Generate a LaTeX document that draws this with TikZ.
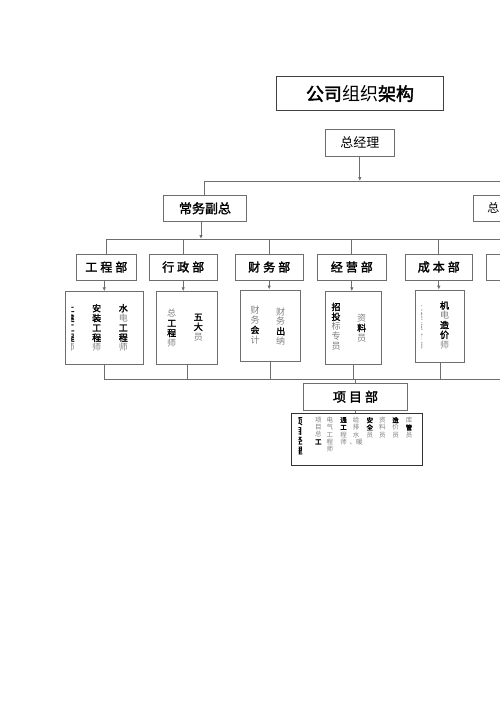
\documentclass[tikz,border=0pt]{standalone}
\usepackage{fontspec}
\setmainfont{Noto Sans CJK SC}[AutoFakeBold=2]
\usetikzlibrary{arrows.meta}
\definecolor{ln}{HTML}{6E6E6E}
\definecolor{tg}{HTML}{808080}
\newcommand\gk[1]{\textcolor{tg}{#1}}
\newcommand\bk[1]{{\bfseries #1}}
\begin{document}
\begin{tikzpicture}[x=1pt,y=-1pt,
  box/.style={draw=ln, line width=0.8pt, inner sep=0pt, fill=white},
  dept/.style={box, minimum height=26pt, font=\bfseries\fontsize{12}{12}\selectfont},
  conn/.style={draw=ln, line width=0.8pt},
  arr/.style={conn, -{Latex[length=4pt,width=3.5pt]}},
  col/.style={inner sep=0pt, align=center, font=\fontsize{9}{9.8}\selectfont},
  small/.style={inner sep=0pt, align=center, anchor=north, font=\fontsize{6.5}{7.3}\selectfont},
]
\fill[white] (0,0) rectangle (500,707);
\clip (0,0) rectangle (500,707);

% top boxes
\node[box, minimum width=166.6pt, minimum height=34pt, draw=black!75, font=\fontsize{18}{18}\selectfont] (title) at (360,93.7) {\bfseries 公司\mdseries 组织\bfseries 架构};
\node[box, minimum width=68.3pt, minimum height=26.7pt, font=\fontsize{13}{13}\selectfont] (gm) at (359.8,142.7) {总经理};
\node[box, minimum width=83.4pt, minimum height=26.7pt, font=\bfseries\fontsize{13}{13}\selectfont] (vp) at (205,208.3) {常务副总};
\node[box, minimum width=83.4pt, minimum height=26.7pt] (ce) at (515,208.3) {};
\node[inner sep=0pt, font=\fontsize{12}{12}\selectfont] (cet) at (493.3,208.3) {总};

% departments
\node[dept, minimum width=60.7pt] (d1) at (106.3,267) {工\hspace{3pt}程\hspace{3pt}部};
\node[dept, minimum width=68.3pt] (d2) at (183.2,267) {行\hspace{3pt}政\hspace{3pt}部};
\node[dept, minimum width=68.3pt] (d3) at (269.2,267) {财\hspace{3pt}务\hspace{3pt}部};
\node[dept, minimum width=68.3pt] (d4) at (351.8,267) {经\hspace{3pt}营\hspace{3pt}部};
\node[dept, minimum width=67.7pt] (d5) at (438.8,267) {成\hspace{3pt}本\hspace{3pt}部};
\node[dept, minimum width=68pt] (d6) at (520,267) {};

% sub boxes
\node[box, minimum width=78.3pt, minimum height=72.3pt] (s1) at (104.2,327.8) {};
\node[box, minimum width=60.6pt, minimum height=72.3pt] (s2) at (187,327.8) {};
\node[box, minimum width=60.7pt, minimum height=71.7pt] (s3) at (270.3,325.8) {};
\node[box, minimum width=56pt, minimum height=72.3pt] (s4) at (353,327.8) {};
\node[box, minimum width=48.6pt, minimum height=72.3pt] (s5) at (440,326.2) {};

% project department
\node[box, minimum width=104.4pt, minimum height=26.7pt, font=\bfseries\fontsize{13}{13}\selectfont] (pm) at (355.5,396.7) {项\hspace{3pt}目\hspace{3pt}部};
\node[box, minimum width=131.3pt, minimum height=51.7pt, draw=black!80] (ps) at (356.7,439.2) {};

% connectors
\coordinate (h1L) at (204.3,181); \coordinate (h1R) at (510,181);
\coordinate (h2L) at (105.7,239); \coordinate (h2R) at (510,239);
\coordinate (h3L) at (104,379);   \coordinate (h3R) at (510,379);
\draw[arr] (gm.south) -- (gm.south |- h1L);
\draw[conn] (h1L) -- (h1R);
\draw[conn] (h1L) -- (h1L |- vp.north);
\draw[arr] ([xshift=-4pt]vp.south) -- ([xshift=-4pt]vp.south |- h2L);
\draw[conn] (h2L) -- (h2R);
\foreach \d in {d1,d2,d3,d4,d5} {\draw[conn] (\d.north |- h2L) -- (\d.north);}
\draw[arr] ([xshift=-2pt]d1.south) -- ([xshift=-2pt]d1.south |- s1.north);
\draw[arr] (d2.south) -- (d2.south |- s2.north);
\draw[arr] (d3.south) -- (d3.south |- s3.north);
\draw[arr] (d4.south) -- (d4.south |- s4.north);
\draw[arr] (d5.south) -- (d5.south |- s5.north);
\foreach \s in {s1,s2,s3,s4,s5} {\draw[conn] (\s.south) -- (\s.south |- h3L);}
\draw[conn] (h3L) -- (h3R);
\draw[conn] (pm.north |- h3L) -- (pm.north);
\draw[conn] (pm.south) -- (pm.south |- ps.north);

% texts of sub boxes
\begin{scope}
  \clip (71.3,295) rectangle (84,360);
  \node[col] (t11) at (70,327.8) {\bk{土}\\\bk{建}\\\bk{工}\\\bk{程}\\\gk{师}};
\end{scope}
\node[col] (t12) at (96.7,327.8) {\bk{安}\\\bk{装}\\\bk{工}\\\bk{程}\\\gk{师}};
\node[col] (t13) at (123.3,327.8) {\bk{水}\\\gk{电}\\\bk{工}\\\bk{程}\\\gk{师}};
\node[col] (t21) at (171.7,328) {\gk{总}\\\bk{工}\\\bk{程}\\\gk{师}};
\node[col] (t22) at (198.3,327.3) {\bk{五}\\\bk{大}\\\gk{员}};
\node[col] (t31) at (255,325) {\gk{财}\\\gk{务}\\\bk{会}\\\gk{计}};
\node[col] (t32) at (280.7,326.3) {\gk{财}\\\gk{务}\\\bk{出}\\\gk{纳}};
\node[col] (t41) at (336,326.5) {\bk{招}\\\bk{投}\\\gk{标}\\\gk{专}\\\gk{员}};
\node[col] (t42) at (361.7,328) {\gk{资}\\\bk{料}\\\gk{员}};
\begin{scope}
  \clip (421.3,295) rectangle (430,360);
  \node[col] (t51) at (418.5,326.2) {\gk{土}\\\gk{建}\\\gk{造}\\\gk{价}\\\gk{师}};
\end{scope}
\node[col] (t52) at (444.5,325) {\bk{机}\\\gk{电}\\\bk{造}\\\bk{价}\\\gk{师}};

% project sub box texts
\begin{scope}
  \clip (298.5,414) rectangle (310,464);
  \node[col, anchor=north, font=\bfseries\fontsize{9}{9.8}\selectfont] (p1) at (298,417) {项\\目\\经\\理};
\end{scope}
\node[small] (p2) at (318.3,417) {\gk{项}\\\gk{目}\\\gk{总}\\\bk{工}};
\node[small] (p3) at (329.8,417) {\gk{电}\\\gk{气}\\\gk{工}\\\gk{程}\\\gk{师}};
\node[small] (p4) at (343.5,417) {\bk{通}\\\bk{工}\\\gk{程}\\\gk{师}};
\node[small] (p5) at (356,417) {\gk{给}\\\gk{排}\\\gk{水}\\\gk{、暖}};
\node[small] (p6) at (369.8,417) {\bk{安}\\\bk{全}\\\gk{员}};
\node[small] (p7) at (382.4,417) {\gk{资}\\\gk{料}\\\gk{员}};
\node[small] (p8) at (395.5,417) {\bk{造}\\\gk{价}\\\gk{员}};
\node[small] (p9) at (409,417) {\gk{库}\\\bk{管}\\\gk{员}};
\end{tikzpicture}
\end{document}
